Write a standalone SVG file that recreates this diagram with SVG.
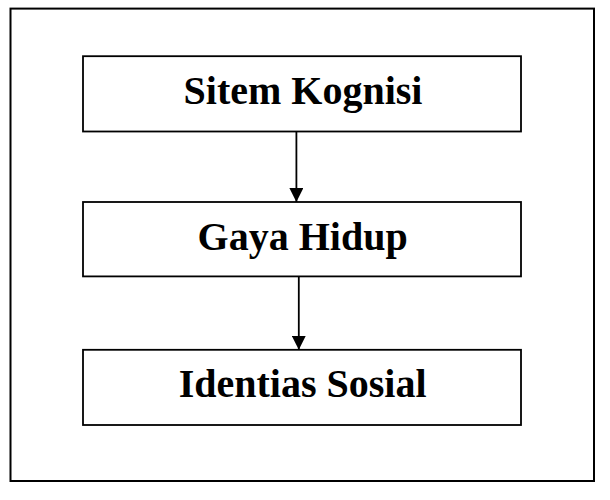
<svg xmlns="http://www.w3.org/2000/svg" width="610" height="500" viewBox="0 0 610 500">
  <style>
    .box { fill: #ffffff; stroke: #000000; stroke-width: 1.8; }
    .label { font-family: "Liberation Serif", "Times New Roman", serif; font-weight: bold; font-size: 40px; fill: #000000; text-anchor: middle; }
    .conn { stroke: #000000; stroke-width: 1.8; fill: none; }
  </style>
  <defs>
    <marker id="arrow" markerUnits="userSpaceOnUse" markerWidth="14" markerHeight="14" refX="14" refY="7" orient="auto">
      <path d="M0,0 L14,7 L0,14 Z" fill="#000000"/>
    </marker>
  </defs>
  <rect width="610" height="500" fill="#ffffff"/>
  <g id="frame">
    <rect x="10.5" y="8.6" width="583.5" height="472.4" fill="none" stroke="#000000" stroke-width="2"/>
  </g>
  <g id="node-sitem-kognisi">
    <rect class="box" x="83" y="56.2" width="438" height="75.3"/>
    <text class="label" x="303" y="104.2">Sitem Kognisi</text>
  </g>
  <g id="node-gaya-hidup">
    <rect class="box" x="83" y="202" width="438" height="74.4"/>
    <text class="label" x="302.6" y="249.7">Gaya Hidup</text>
  </g>
  <g id="node-identias-sosial">
    <rect class="box" x="83" y="349.8" width="438" height="75.2"/>
    <text class="label" x="302.6" y="397.3">Identias Sosial</text>
  </g>
  <g id="connectors">
    <line class="conn" x1="296.4" y1="131.5" x2="296.4" y2="202" marker-end="url(#arrow)"/>
    <line class="conn" x1="298.8" y1="276.4" x2="298.8" y2="349.8" marker-end="url(#arrow)"/>
  </g>
</svg>
